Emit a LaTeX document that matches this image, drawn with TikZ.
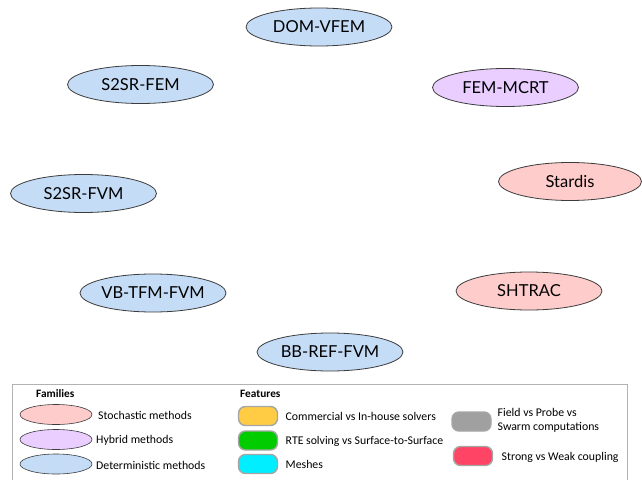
\documentclass[tikz,border=0pt]{standalone}
\usepackage{fontspec}
\setmainfont{Carlito}
\newfontfamily\nodefont{Lato}
\usetikzlibrary{shapes.geometric}
\definecolor{pinkf}{RGB}{255,204,204}
\definecolor{purpf}{RGB}{233,206,255}
\definecolor{bluef}{RGB}{197,220,246}
\definecolor{orgf}{RGB}{255,204,68}
\definecolor{grnf}{RGB}{0,204,0}
\definecolor{cyanf}{RGB}{0,238,255}
\definecolor{grayf}{RGB}{160,160,160}
\definecolor{redf}{RGB}{255,68,102}
\definecolor{edge}{RGB}{60,60,60}
\begin{document}
\begin{tikzpicture}[x=1pt,y=-1pt,
  meth/.style={ellipse,draw=edge,line width=0.8pt,minimum width=146pt,minimum height=38pt,inner sep=0pt,font=\nodefont\fontsize{16.5}{18}\selectfont},
  leg/.style={ellipse,draw=edge,line width=0.6pt,minimum width=72pt,minimum height=20pt,inner sep=0pt},
  feat/.style={rounded corners=7pt,draw=gray!70,line width=1.4pt,minimum width=39pt,minimum height=19pt,inner sep=0pt},
  ltxt/.style={anchor=west,font=\fontsize{11.8}{13}\selectfont,inner sep=0pt,align=left},
  head/.style={anchor=west,font=\bfseries\fontsize{11.3}{13}\selectfont,inner sep=0pt}]
\useasboundingbox (0,0) rectangle (642,479);
\fill[white] (0,0) rectangle (642,479);
\node[meth,fill=bluef] (dom) at (319,27) {DOM-VFEM};
\node[meth,fill=bluef] (s2fem) at (140.5,84.5) {S2SR-FEM};
\node[meth,fill=purpf] (mcrt) at (505.5,87.5) {FEM-MCRT};
\node[meth,fill=bluef] (s2fvm) at (83.5,193.5) {S2SR-FVM};
\node[meth,fill=pinkf,minimum width=143pt] (stardis) at (570,181.5) {Stardis};
\node[meth,fill=bluef] (vb) at (153,293) {VB-TFM-FVM};
\node[meth,fill=pinkf] (shtrac) at (529,291) {SHTRAC};
\node[meth,fill=bluef] (bb) at (330,352) {BB-REF-FVM};
% legend
\draw[gray!60,line width=0.6pt] (12,481) -- (12,384.5) -- (627,384.5) -- (627,481);
\node[head] (fam) at (36,394) {Families};
\node[leg,fill=pinkf] (lp) at (56,414.5) {};
\node[ltxt] (tp) at (98,415) {Stochastic methods};
\node[leg,fill=purpf] (lh) at (56,439.5) {};
\node[ltxt] (th) at (96,440) {Hybrid methods};
\node[leg,fill=bluef] (ld) at (56,464) {};
\node[ltxt] (td) at (96,465) {Deterministic methods};
\node[head] (fea) at (240,394) {Features};
\node[feat,fill=orgf] (fo) at (258,416) {};
\node[ltxt] (to) at (285.5,416.5) {Commercial vs In-house solvers};
\node[feat,fill=grnf] (fg) at (258,440.5) {};
\node[ltxt] (tg) at (285.5,441) {RTE solving vs Surface-to-Surface};
\node[feat,fill=cyanf] (fc) at (258,464) {};
\node[ltxt] (tc) at (285.5,464.5) {Meshes};
\node[feat,fill=grayf] (fgr) at (471.5,421.5) {};
\node[ltxt] (tgr) at (497.5,420) {Field vs Probe vs\\[1pt]Swarm computations};
\node[feat,fill=redf] (fr) at (473,456) {};
\node[ltxt] (tr) at (501.5,457) {Strong vs Weak coupling};
\end{tikzpicture}
\end{document}
